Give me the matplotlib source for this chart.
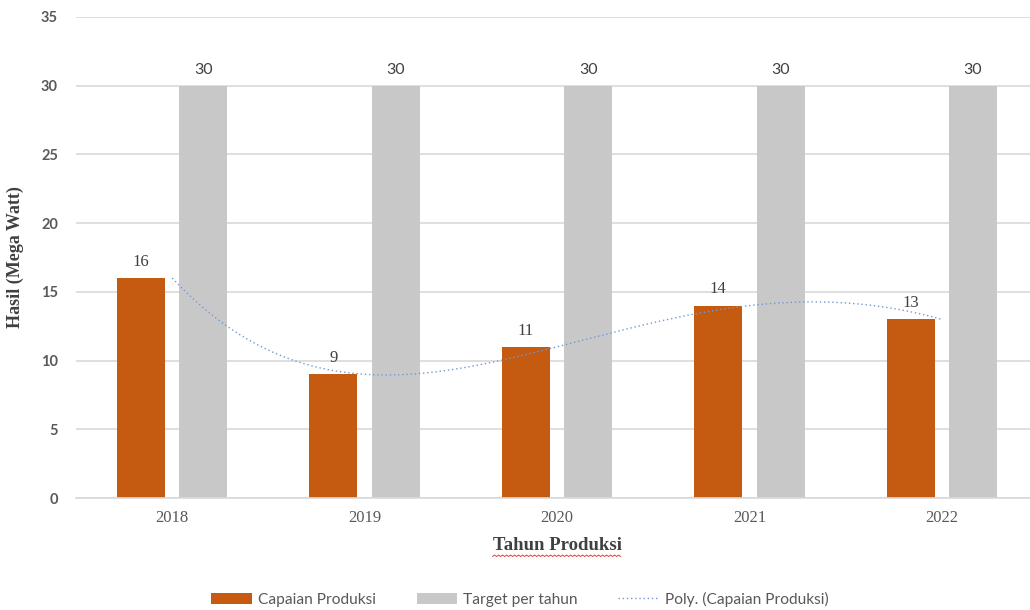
import numpy as np
import matplotlib
matplotlib.use("Agg")
import matplotlib.pyplot as plt

# Data
years = ["2018", "2019", "2020", "2021", "2022"]
capaian = [16, 9, 11, 14, 13]
target = [30, 30, 30, 30, 30]

ORANGE = "#c55a11"
GRAY = "#c8c8c8"
TREND = "#6f9ad6"
TEXT = "#595959"

fig = plt.figure(figsize=(10.3, 6.1), dpi=100)
ax = fig.add_axes([76 / 1030, 1 - 498 / 610, 962 / 1030, 481 / 610])

x = np.arange(len(years))
w = 0.25
off = 0.162

b1 = ax.bar(x - off, capaian, w, color=ORANGE, label="Capaian Produksi", zorder=2)
b2 = ax.bar(x + off, target, w, color=GRAY, label="Target per tahun", zorder=2)

# polynomial trendline through the achieved values
coef = np.polyfit(x, capaian, 4)
xs = np.linspace(0, len(years) - 1, 200)
ax.plot(xs, np.polyval(coef, xs), linestyle=(0, (1, 2)), color=TREND,
        linewidth=1.0, label="Poly. (Capaian Produksi)", zorder=3)

# Data labels
for xi, v in zip(x, capaian):
    ax.text(xi - off, v + 0.6, str(v), ha="center", va="bottom",
            family="Liberation Serif", fontsize=12, color="#404040")
for xi, v in zip(x, target):
    ax.text(xi + off, v + 0.6, str(v), ha="center", va="bottom",
            family="Lato", fontsize=11.5, color="#404040")

# Axes formatting
ax.set_xlim(-0.5, 4.5)
ax.set_ylim(0, 35)
ax.set_yticks(range(0, 36, 5))
ax.set_xticks(x)
ax.set_xticklabels(years, family="Liberation Serif", fontsize=12, color=TEXT)
for lab in ax.get_yticklabels():
    lab.set_family("Lato")
    lab.set_fontweight("bold")
    lab.set_fontsize(10.5)
    lab.set_color(TEXT)
ax.tick_params(axis="y", length=0, pad=13)
ax.tick_params(axis="x", length=0, pad=9)
ax.grid(axis="y", color="#d9d9d9", linewidth=1.2, zorder=0)
ax.set_axisbelow(True)
for s in ["top", "right", "left"]:
    ax.spines[s].set_visible(False)
ax.spines["bottom"].set_color("#d9d9d9")
ax.spines["bottom"].set_linewidth(1.2)

ax.set_ylabel("Hasil (Mega Watt)", family="Liberation Serif", fontweight="bold",
              fontsize=13, color="#404040", labelpad=12)
xl = fig.text(557 / 1030, 1 - 546 / 610, "Tahun Produksi", ha="center", va="center",
              family="Liberation Serif", fontweight="bold", fontsize=13.5, color="#404040")

# red wavy spell-check underline under x label
fig.canvas.draw()
bb = xl.get_window_extent()
ux = np.arange(bb.x0, bb.x1, 2.0)
uy = bb.y0 - 2 + np.where(np.arange(len(ux)) % 2 == 0, 0, 1.5)
fig.add_artist(plt.Line2D(ux / 1030, uy / 610, color="#e04040", linewidth=0.7))

fig.legend(handles=[b1, b2, ax.lines[0]], loc="center", bbox_to_anchor=(520 / 1030, 1 - 599 / 610),
           ncol=3, frameon=False, prop={"family": "Lato", "size": 11.2},
           labelcolor=TEXT, handlelength=2.6, handleheight=0.7, handletextpad=0.4,
           columnspacing=2.6)

fig.savefig("out.png", dpi=100)
